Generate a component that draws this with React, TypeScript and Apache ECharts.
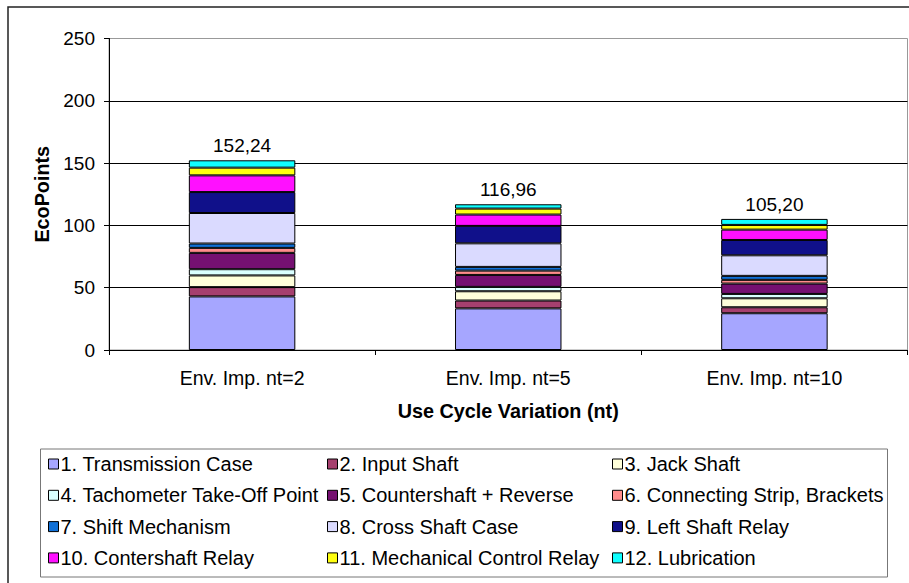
import React, { useEffect, useRef } from "react";
import * as echarts from "echarts";

const categories = ["Env. Imp. nt=2", "Env. Imp. nt=5", "Env. Imp. nt=10"];
const totalLabels = ["152,24", "116,96", "105,20"];

const seriesNames = [
  "1. Transmission Case",
  "2. Input Shaft",
  "3. Jack Shaft",
  "4. Tachometer Take-Off Point",
  "5. Countershaft + Reverse",
  "6. Connecting Strip, Brackets",
  "7. Shift Mechanism",
  "8. Cross Shaft Case",
  "9. Left Shaft Relay",
  "10. Contershaft Relay",
  "11. Mechanical Control Relay",
  "12. Lubrication",
];

const transmissionCase = [43.0, 33.4, 29.5];
const inputShaft = [7.45, 6.3, 4.8];
const jackShaft = [9.4, 7.45, 7.2];
const tachometer = [5.0, 3.5, 3.5];
const countershaft = [13.1, 9.6, 8.3];
const connectingStrip = [4.0, 3.45, 3.0];
const shiftMechanism = [3.5, 3.0, 3.2];
const crossShaftCase = [24.5, 18.9, 16.5];
const leftShaftRelay = [16.8, 14.0, 12.3];
const contershaftRelay = [13.4, 9.1, 8.3];
const mechControlRelay = [6.2, 4.8, 3.8];
const lubrication = [5.89, 3.45, 4.8];

const seriesValues = [
  transmissionCase,
  inputShaft,
  jackShaft,
  tachometer,
  countershaft,
  connectingStrip,
  shiftMechanism,
  crossShaftCase,
  leftShaftRelay,
  contershaftRelay,
  mechControlRelay,
  lubrication,
];

const colors = [
  "#A6A6FF",
  "#A6406F",
  "#FFFFDA",
  "#DAFFFF",
  "#751071",
  "#FF8C8C",
  "#1070D6",
  "#DADAFF",
  "#10108A",
  "#FF10FF",
  "#FFFF10",
  "#10FFFF",
];

const FONT = "'Liberation Sans', Arial, sans-serif";

export default function App() {
  const ref = useRef<HTMLDivElement>(null);
  useEffect(() => {
    if (!ref.current) return;
    const chart = echarts.init(ref.current, null, { renderer: "svg" });
    const legendBase = {
      orient: "vertical",
      top: 454,
      padding: 0,
      itemGap: 11.3,
      itemWidth: 10,
      itemHeight: 10,
      icon: "rect",
      selectedMode: false,
      itemStyle: { borderColor: "#000", borderWidth: 1 },
      textStyle: { fontFamily: FONT, fontSize: 20, color: "#000", lineHeight: 20, padding: [0, 0, 0, -3] },
    };
    chart.setOption({
      animation: false,
      backgroundColor: "#fff",
      textStyle: { fontFamily: FONT },
      grid: {
        left: 109,
        right: 1.5,
        top: 38.5,
        bottom: 233,
        show: true,
        borderColor: "#999",
        borderWidth: 1,
        containLabel: false,
      },
      legend: [
        { ...legendBase, left: 48, data: [0, 3, 6, 9].map((i) => seriesNames[i]) },
        { ...legendBase, left: 327, data: [1, 4, 7, 10].map((i) => seriesNames[i]) },
        { ...legendBase, left: 612, data: [2, 5, 8, 11].map((i) => seriesNames[i]) },
      ],
      xAxis: {
        type: "category",
        data: categories,
        name: "Use Cycle Variation (nt)",
        nameLocation: "middle",
        nameGap: 51,
        nameTextStyle: { fontFamily: FONT, fontSize: 19.8, fontWeight: "bold", color: "#000" },
        axisLine: { lineStyle: { color: "#000", width: 1 } },
        axisTick: { show: true, length: 5, lineStyle: { color: "#000" } },
        axisLabel: { margin: 18, fontFamily: FONT, fontSize: 19.5, color: "#000" },
      },
      yAxis: {
        type: "value",
        min: 0,
        max: 250,
        interval: 50,
        name: "EcoPoints",
        nameLocation: "middle",
        nameGap: 56,
        nameTextStyle: { fontFamily: FONT, fontSize: 19.8, fontWeight: "bold", color: "#000" },
        axisLine: { show: true, lineStyle: { color: "#000", width: 1 } },
        axisTick: { show: true, length: 5, lineStyle: { color: "#000" } },
        axisLabel: { margin: 14, fontFamily: FONT, fontSize: 19, color: "#000" },
        splitLine: { show: true, showMaxLine: false, lineStyle: { color: "#000", width: 1 } },
      },
      series: seriesValues.map((vals, i) => ({
        name: seriesNames[i],
        type: "bar",
        stack: "total",
        data: vals,
        barWidth: "40%",
        itemStyle: { color: colors[i], borderColor: "#000", borderWidth: 1 },
        label:
          i === seriesValues.length - 1
            ? {
                show: true,
                position: "top",
                distance: 5,
                formatter: (p: any) => totalLabels[p.dataIndex],
                fontFamily: FONT,
                fontSize: 19,
                color: "#000",
              }
            : { show: false },
      })),
      graphic: [
        {
          type: "rect",
          shape: { x: 8, y: 7, width: 930, height: 620 },
          style: { fill: "none", stroke: "#222", lineWidth: 1.5 },
          silent: true,
          z: 100,
        },
        {
          type: "rect",
          shape: { x: 40.5, y: 449, width: 847, height: 128 },
          style: { fill: "none", stroke: "#777", lineWidth: 1 },
          silent: true,
          z: 100,
        },
      ],
    });
    return () => chart.dispose();
  }, []);
  return (
    <div
      ref={ref}
      style={{ position: "fixed", left: 0, top: 0, width: 909, height: 583 }}
    />
  );
}
